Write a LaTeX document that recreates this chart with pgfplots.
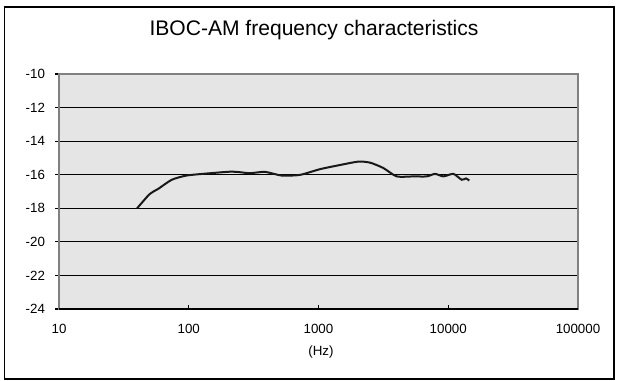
\documentclass[border=0pt]{standalone}
\usepackage{pgfplots}
\pgfplotsset{compat=1.18}
\usepackage{fontspec}
\setmainfont{Liberation Sans}
\begin{document}
\begin{tikzpicture}[x=0.75pt,y=0.75pt]
\path[use as bounding box] (0,0) rectangle (618,380);
\draw[line width=1.3pt] (4.5,1) rectangle (614,373);
\node[font=\fontsize{15.8}{18}\selectfont] at (314,350) {IBOC-AM frequency characteristics};
\node[font=\fontsize{10}{12}\selectfont] at (321,28) {(Hz)};
\begin{axis}[
 at={(44.25pt,53.25pt)}, anchor=south west,
 scale only axis, width=389.25pt, height=176.25pt,
 xmode=log, xmin=10, xmax=100000, ymin=-24, ymax=-10,
 xtick={10,100,1000,10000,100000},
 xticklabels={10,100,1000,10000,100000},
 ytick={-24,-22,-20,-18,-16,-14,-12,-10},
 yticklabels={-24,-22,-20,-18,-16,-14,-12,-10},
 xminorticks=false, yminorticks=false,
 xtick pos=bottom, ytick pos=left,
 tick align=inside,
 major tick length=3pt,
 y tick style={xshift=-3pt, black, line width=0.8pt},
 x tick style={black, line width=0.8pt},
 ymajorgrids,
 major grid style={black, line width=0.75pt},
 axis background/.style={fill=black!10},
 axis line style={draw=black!50, line width=1pt},
 ticklabel style={font=\fontsize{10}{12}\selectfont},
 xticklabel style={yshift=-8pt},
 yticklabel style={xshift=-7pt},
]
\addplot[color=black!90, line width=1.5pt, smooth, tension=0.4] coordinates {
(40,-18.0) (50,-17.15) (58,-16.85) (74,-16.3) (96,-16.05) (137,-15.93)
(208,-15.82) (248,-15.85) (297,-15.91) (387,-15.83) (520,-16.05) (719,-16.01)
(1027,-15.67) (1466,-15.42) (2028,-15.22) (2495,-15.28) (3159,-15.6) (4006,-16.1)
(5383,-16.1) (6825,-16.1) (7910,-15.95) (9170,-16.1) (10940,-15.95) (12700,-16.3)
(13710,-16.22) (14520,-16.35)
};
\draw[black, line width=1pt] (rel axis cs:0,0) -- (rel axis cs:1,0);
\end{axis}
\end{tikzpicture}
\end{document}
